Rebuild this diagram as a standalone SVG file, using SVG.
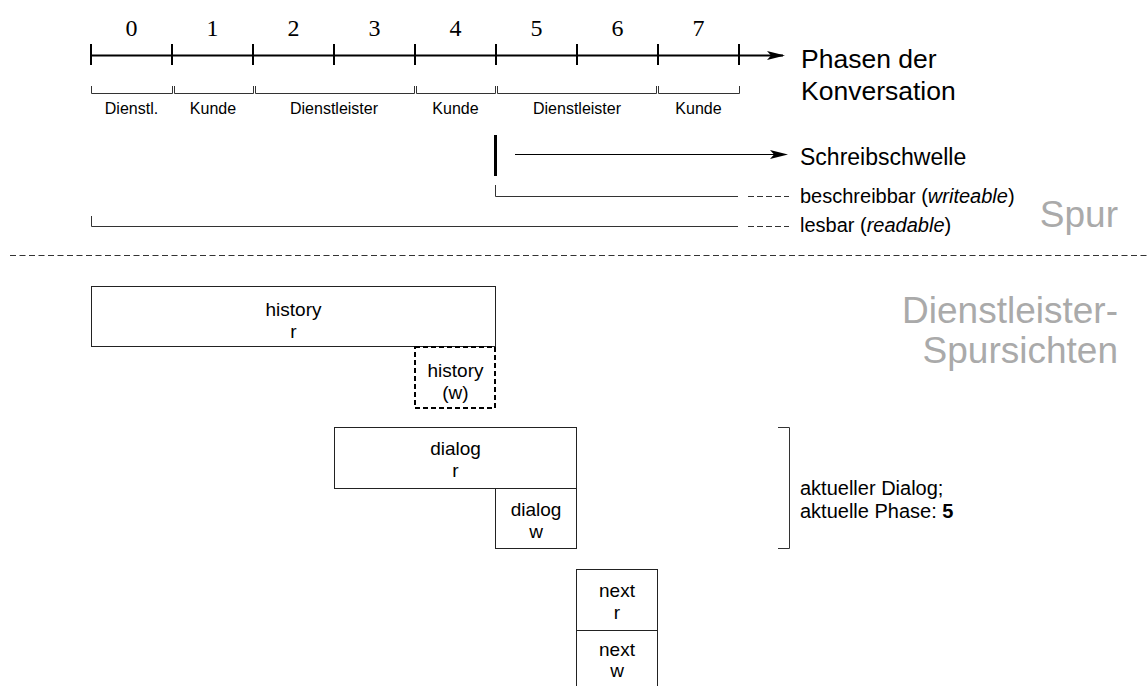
<svg xmlns="http://www.w3.org/2000/svg" width="1147" height="686" viewBox="0 0 1147 686">
  <style>
    .sans { font-family: "Liberation Sans", Arial, sans-serif; fill: #000; }
    .num { font-family: "Liberation Serif", "Times New Roman", serif; font-size: 24px; fill: #000; text-anchor: middle; }
    .phase { font-size: 16px; text-anchor: middle; }
    .big { font-size: 26.5px; }
    .mid { font-size: 23px; }
    .note { font-size: 20px; }
    .title { font-family: "Liberation Sans", Arial, sans-serif; font-size: 37px; fill: #aaaaaa; text-anchor: end; }
    .box { fill: #fff; stroke: #222; stroke-width: 1; }
    .boxdash { fill: #fff; stroke: #000; stroke-width: 2; stroke-dasharray: 5 3; }
    .lbl { font-size: 19px; text-anchor: middle; }
    .axis { stroke: #000; stroke-width: 2; fill: none; }
    .thin { stroke: #333; stroke-width: 1; fill: none; }
    .dash { stroke: #333; stroke-width: 1; fill: none; stroke-dasharray: 6 3; }
  </style>
  <defs>
    <marker id="head" markerUnits="userSpaceOnUse" markerWidth="18" markerHeight="10" refX="16" refY="4.5" orient="auto" viewBox="0 0 18 9">
      <path d="M0,0 L18,4.5 L0,9 L4,4.5 z" fill="#000"/>
    </marker>
  </defs>

  <!-- phase axis -->
  <g id="axis">
    <line class="axis" x1="91" y1="55.5" x2="783" y2="55.5" marker-end="url(#head)"/>
    <path class="axis" d="M91,44V65 M172,44V65 M253,44V65 M334,44V65 M415,44V65 M496,44V65 M577,44V65 M658,44V65 M739,44V65"/>
    <text class="num" x="131.5" y="36">0</text>
    <text class="num" x="212.5" y="36">1</text>
    <text class="num" x="293.5" y="36">2</text>
    <text class="num" x="374.5" y="36">3</text>
    <text class="num" x="455.5" y="36">4</text>
    <text class="num" x="536.5" y="36">5</text>
    <text class="num" x="617.5" y="36">6</text>
    <text class="num" x="698.5" y="36">7</text>
    <text class="sans big" x="801" y="68">Phasen der</text>
    <text class="sans big" x="801" y="100">Konversation</text>
  </g>

  <!-- speaker segments -->
  <g id="speakers">
    <path class="thin" d="M91.5,86V93.5H172.5V86 M174.5,86V93.5H253.5V86 M255.5,86V93.5H414.5V86 M416.5,86V93.5H495.5V86 M497.5,86V93.5H656.5V86 M658.5,86V93.5H739.5V86"/>
    <text class="sans phase" x="131.5" y="114">Dienstl.</text>
    <text class="sans phase" x="213" y="114">Kunde</text>
    <text class="sans phase" x="334" y="114">Dienstleister</text>
    <text class="sans phase" x="455.5" y="114">Kunde</text>
    <text class="sans phase" x="577" y="114">Dienstleister</text>
    <text class="sans phase" x="698.5" y="114">Kunde</text>
  </g>

  <!-- write threshold and ranges -->
  <g id="threshold">
    <rect x="494" y="135" width="3" height="41" fill="#000"/>
    <line x1="515" y1="154.5" x2="786" y2="154.5" stroke="#000" stroke-width="1" marker-end="url(#head)"/>
    <text class="sans mid" x="800" y="165">Schreibschwelle</text>
  </g>
  <g id="writeable">
    <path class="thin" d="M495.5,185V196.5H738"/>
    <line class="dash" x1="748" y1="196.5" x2="789" y2="196.5"/>
    <text class="sans note" x="800" y="203">beschreibbar (<tspan font-style="italic">writeable</tspan>)</text>
  </g>
  <g id="readable">
    <path class="thin" d="M91.5,216V226.5H738"/>
    <line class="dash" x1="748" y1="226.5" x2="789" y2="226.5"/>
    <text class="sans note" x="800" y="232">lesbar (<tspan font-style="italic">readable</tspan>)</text>
  </g>
  <text class="title" x="1118" y="227">Spur</text>

  <!-- section divider -->
  <line x1="10" y1="255.5" x2="1147" y2="255.5" stroke="#333" stroke-width="1.2" stroke-dasharray="6 3.5"/>
  <text class="title" x="1118" y="323">Dienstleister-</text>
  <text class="title" x="1118" y="363">Spursichten</text>

  <!-- trace views -->
  <g id="history-r">
    <rect class="box" x="91.5" y="286.5" width="404" height="60"/>
    <text class="sans lbl" x="293.5" y="316">history</text>
    <text class="sans lbl" x="293.5" y="338">r</text>
  </g>
  <g id="history-w">
    <rect class="boxdash" x="415" y="347" width="80" height="61"/>
    <text class="sans lbl" x="455.5" y="377">history</text>
    <text class="sans lbl" x="455.5" y="399">(w)</text>
  </g>
  <g id="dialog-r">
    <rect class="box" x="334.5" y="427.5" width="242" height="61"/>
    <text class="sans lbl" x="455.5" y="455">dialog</text>
    <text class="sans lbl" x="455.5" y="477">r</text>
  </g>
  <g id="dialog-w">
    <rect class="box" x="495.5" y="488.5" width="81" height="60"/>
    <text class="sans lbl" x="536" y="516">dialog</text>
    <text class="sans lbl" x="536" y="538">w</text>
  </g>
  <g id="next-r">
    <rect class="box" x="576.5" y="569.5" width="81" height="61"/>
    <text class="sans lbl" x="617" y="597">next</text>
    <text class="sans lbl" x="617" y="619">r</text>
  </g>
  <g id="next-w">
    <rect class="box" x="576.5" y="630.5" width="81" height="62"/>
    <text class="sans lbl" x="617" y="656">next</text>
    <text class="sans lbl" x="617" y="677">w</text>
  </g>

  <!-- current dialog brace -->
  <g id="current">
    <path class="thin" d="M778,427.5H789.5V548.5H778"/>
    <text class="sans note" x="800" y="495">aktueller Dialog;</text>
    <text class="sans note" x="800" y="518">aktuelle Phase: <tspan font-weight="bold">5</tspan></text>
  </g>
</svg>
